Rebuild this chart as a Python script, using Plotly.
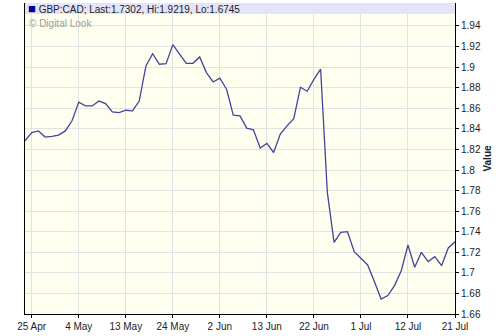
import plotly.graph_objects as go

# Trading-day index 0..64 (22 Apr .. 21 Jul)
values = [
    1.8283, 1.8364, 1.8380, 1.8320, 1.8326, 1.8340, 1.8380, 1.8478, 1.8660, 1.8623,
    1.8623, 1.8670, 1.8646, 1.8565, 1.8558, 1.8581, 1.8575, 1.8670, 1.9012, 1.9130,
    1.9028, 1.9034, 1.9219, 1.9130, 1.9037, 1.9037, 1.9099, 1.8947, 1.8856, 1.8892,
    1.8785, 1.8533, 1.8526, 1.8407, 1.8390, 1.8213, 1.8258, 1.8170, 1.8349, 1.8429,
    1.8500, 1.8805, 1.8766, 1.8881, 1.8980, 1.7782, 1.7296, 1.7393, 1.7400, 1.7206,
    1.7141, 1.7077, 1.6915, 1.6745, 1.6779, 1.6876, 1.7021, 1.7271, 1.7054, 1.7200,
    1.7109, 1.7157, 1.7070, 1.7242, 1.7302,
]
x_idx = list(range(len(values)))

tick_pos = [1, 8, 15, 22, 29, 36, 43, 50, 57, 64]
tick_labels = ["25 Apr", "4 May", "13 May", "24 May", "2 Jun", "13 Jun",
               "22 Jun", "1 Jul", "12 Jul", "21 Jul"]

y_ticks = [1.66, 1.68, 1.70, 1.72, 1.74, 1.76, 1.78, 1.80, 1.82, 1.84,
           1.86, 1.88, 1.90, 1.92, 1.94]
y_tick_labels = ["1.66", "1.68", "1.7", "1.72", "1.74", "1.76", "1.78", "1.8",
                 "1.82", "1.84", "1.86", "1.88", "1.9", "1.92", "1.94"]

header_text = "GBP:CAD; Last:1.7302, Hi:1.9219, Lo:1.6745"
credit_text = "© Digital Look"

FONT = "Liberation Sans, Arial, sans-serif"

fig = go.Figure()
fig.add_trace(go.Scatter(
    x=x_idx, y=values, mode="lines",
    line=dict(color="#44449c", width=1.3),
    hoverinfo="skip", showlegend=False,
))

plot_h = 336 - 3 - 22
head_frac = 11 / plot_h

fig.add_shape(type="rect", xref="paper", yref="paper",
              x0=0, x1=1, y0=1 - head_frac, y1=1,
              fillcolor="#e4e4f8", line=dict(width=0), layer="above")

fig.add_annotation(xref="paper", yref="paper", x=0, y=1 - head_frac / 2,
                   xanchor="left", yanchor="middle", xshift=1, showarrow=False,
                   text="<span style='color:#00008b;font-size:13px'>■</span> " + header_text,
                   font=dict(family=FONT, size=10, color="#222222"))
fig.add_annotation(xref="paper", yref="paper", x=0, y=1 - head_frac,
                   xanchor="left", yanchor="top", xshift=2, yshift=-2, showarrow=False,
                   text=credit_text,
                   font=dict(family=FONT, size=10, color="#a0a0a0"))

fig.update_layout(
    width=500, height=336,
    margin=dict(l=25, r=45, t=3, b=22),
    paper_bgcolor="white",
    plot_bgcolor="#fffff0",
    font=dict(family=FONT, size=10, color="#222222"),
    xaxis=dict(
        range=[0, 64], tickmode="array", tickvals=tick_pos, ticktext=tick_labels,
        showgrid=True, gridcolor="#e2e2e2", gridwidth=1,
        showline=True, linecolor="black", linewidth=1,
        ticks="outside", ticklen=3, tickcolor="black",
        zeroline=False, tickfont=dict(size=10, family=FONT, color="#222222"),
    ),
    yaxis=dict(
        side="right", range=[1.66, 1.66 + plot_h / 1028.6],
        tickmode="array", tickvals=y_ticks, ticktext=y_tick_labels,
        showgrid=True, gridcolor="#e2e2e2", gridwidth=1,
        showline=True, linecolor="black", linewidth=1, mirror=True,
        ticks="outside", ticklen=3, tickcolor="black",
        zeroline=False, tickfont=dict(size=10, family=FONT, color="#222222"),
        title=dict(text="<b>Value</b>", font=dict(size=10, family=FONT, color="#222222"),
                   standoff=4),
    ),
)

fig.write_html("out.html")
